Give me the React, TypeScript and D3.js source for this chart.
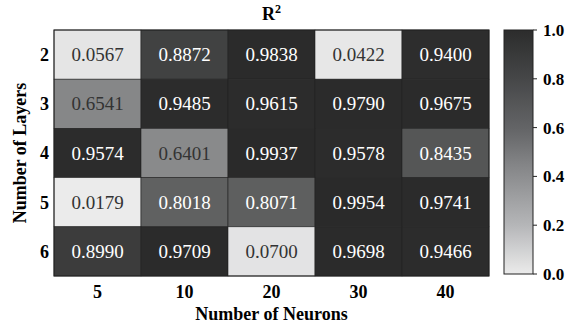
import {useMemo} from 'react'
import * as d3 from 'd3'

const neurons = ['5', '10', '20', '30', '40']
const layers = ['2', '3', '4', '5', '6']
const r2Values = [
  [0.0567, 0.8872, 0.9838, 0.0422, 0.94],
  [0.6541, 0.9485, 0.9615, 0.979, 0.9675],
  [0.9574, 0.6401, 0.9937, 0.9578, 0.8435],
  [0.0179, 0.8018, 0.8071, 0.9954, 0.9741],
  [0.899, 0.9709, 0.07, 0.9698, 0.9466],
]
const colorbarTicks = [0, 0.2, 0.4, 0.6, 0.8, 1.0]

const FONT = '"Liberation Serif", "Times New Roman", serif'
const MARGIN = {top: 30, left: 54}
const HEAT_W = 435
const HEAT_H = 246
const CBAR = {x: 504, w: 29}

export default function App() {
  const width = 580
  const height = 327

  const xScale = useMemo(
    () => d3.scaleBand<string>().domain(neurons).range([MARGIN.left, MARGIN.left + HEAT_W]),
    [],
  )
  const yScale = useMemo(
    () => d3.scaleBand<string>().domain(layers).range([MARGIN.top, MARGIN.top + HEAT_H]),
    [],
  )
  const cbScale = d3.scaleLinear().domain([0, 1]).range([MARGIN.top + HEAT_H - 2, MARGIN.top])

  // colour of the cells as rendered
  const cellColor = d3
    .scaleLinear<string>()
    .domain([0, 0.3, 0.65, 0.85, 0.93, 1])
    .range(['#ededed', '#c4c4c5', '#878889', '#535454', '#2d2d2d', '#2a2a2a'])
    .clamp(true)

  // colorbar gradient
  const cbColor = d3
    .scaleLinear<string>()
    .domain([0, 0.2, 0.4, 0.6, 0.8, 1])
    .range(['#ebebeb', '#b5b6b8', '#8d8e90', '#636466', '#464748', '#2c2c2c'])

  const gradStops = d3.range(0, 1.0001, 0.05)

  return (
    <svg width={width} height={height} style={{position: 'absolute', left: 0, top: 0}}>
      <defs>
        <linearGradient id="cb" x1="0" y1="1" x2="0" y2="0">
          {gradStops.map(s => (
            <stop key={s} offset={s} stopColor={cbColor(s)} />
          ))}
        </linearGradient>
      </defs>
      <rect width={width} height={height} fill="#fff" />

      <text
        x={MARGIN.left + HEAT_W / 2}
        y={20}
        textAnchor="middle"
        fontFamily={FONT}
        fontWeight="bold"
        fontSize={18}>
        R<tspan dy={-7} fontSize={12}>2</tspan>
      </text>

      {r2Values.map((row, i) =>
        row.map((v, j) => {
          const x = xScale(neurons[j])!
          const y = yScale(layers[i])!
          return (
            <g key={`${i}-${j}`}>
              <rect
                x={x}
                y={y}
                width={xScale.bandwidth()}
                height={yScale.bandwidth()}
                fill={cellColor(v)}
                stroke="#222"
                strokeWidth={0.6}
              />
              <text
                x={x + xScale.bandwidth() / 2}
                y={y + yScale.bandwidth() / 2}
                dy="0.35em"
                textAnchor="middle"
                fontFamily={FONT}
                fontSize={19}
                fill={v < 0.7 ? '#333' : '#fff'}>
                {v.toFixed(4)}
              </text>
            </g>
          )
        }),
      )}
      <rect
        x={MARGIN.left}
        y={MARGIN.top}
        width={HEAT_W}
        height={HEAT_H}
        fill="none"
        stroke="#222"
        strokeWidth={1}
      />

      {layers.map(l => (
        <text
          key={l}
          x={MARGIN.left - 5}
          y={yScale(l)! + yScale.bandwidth() / 2}
          dy="0.35em"
          textAnchor="end"
          fontFamily={FONT}
          fontWeight="bold"
          fontSize={18}>
          {l}
        </text>
      ))}
      {neurons.map(n => (
        <text
          key={n}
          x={xScale(n)! + xScale.bandwidth() / 2}
          y={MARGIN.top + HEAT_H + 16}
          dy="0.35em"
          textAnchor="middle"
          fontFamily={FONT}
          fontWeight="bold"
          fontSize={18}>
          {n}
        </text>
      ))}

      <text
        x={MARGIN.left + HEAT_W / 2}
        y={320}
        textAnchor="middle"
        fontFamily={FONT}
        fontWeight="bold"
        fontSize={18}>
        Number of Neurons
      </text>
      <text
        transform={`translate(26,${MARGIN.top + HEAT_H / 2}) rotate(-90)`}
        textAnchor="middle"
        fontFamily={FONT}
        fontWeight="bold"
        fontSize={18}>
        Number of Layers
      </text>

      <rect
        x={CBAR.x}
        y={cbScale(1)}
        width={CBAR.w}
        height={cbScale(0) - cbScale(1)}
        fill="url(#cb)"
        stroke="#222"
        strokeWidth={1}
      />
      {colorbarTicks.map(t => (
        <g key={t} transform={`translate(${CBAR.x + CBAR.w},${cbScale(t)})`}>
          <line x1={0} x2={4} stroke="#222" strokeWidth={1} />
          <text
            x={10}
            dy="0.35em"
            fontFamily={FONT}
            fontWeight="bold"
            fontSize={17}>
            {t.toFixed(1)}
          </text>
        </g>
      ))}
    </svg>
  )
}
